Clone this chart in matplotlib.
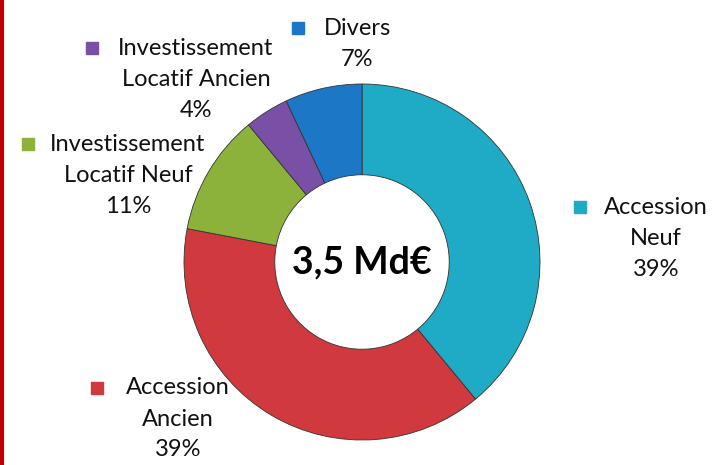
import matplotlib
matplotlib.use("Agg")
import matplotlib.pyplot as plt

categories = ["Accession\nNeuf", "Accession\nAncien", "Investissement\nLocatif Neuf",
              "Investissement\nLocatif Ancien", "Divers"]
values = [39, 39, 11, 4, 7]
pct_labels = ["39%", "39%", "11%", "4%", "7%"]
colors = ["#1FAAC6", "#D0393D", "#8CB23C", "#7A50A6", "#1C78C6"]
center_text = "3,5 Md€"

# label anchor positions (pixels, top-left origin): marker x, text center x, first line y
label_pos = [(580, 656, 207), (97, 178, 388), (28, 128, 144), (92, 196, 48), (298, 357, 28)]

W, H = 728, 465
fig = plt.figure(figsize=(W / 100, H / 100), dpi=100)
ax = fig.add_axes([0, 0, 1, 1])
cx, cy, r = 362, H - 262, 178
ax.pie(values, colors=colors, startangle=90, counterclock=False, center=(cx, cy), radius=r,
       wedgeprops=dict(width=r * 0.51, edgecolor="#333333", linewidth=0.6))
ax.set_xlim(0, W)
ax.set_ylim(0, H)
ax.set_aspect("equal")
ax.axis("off")

font = "Lato"
fs = 17
line_h = 31
for cat, pct, col, (mx, tx, ty) in zip(categories, pct_labels, colors, label_pos):
    lines = cat.split("\n") + [pct]
    ax.plot(mx, H - ty, marker="s", markersize=9, color=col, markeredgecolor=col)
    for i, ln in enumerate(lines):
        ax.text(tx, H - ty - i * line_h, ln, ha="center", va="center", fontsize=fs,
                family=font, color="#111111")

ax.text(cx, cy, center_text, ha="center", va="center", fontsize=27, fontweight="bold",
        family=font, color="#000000")

# red border line at left
ax.plot([1.5, 1.5], [0, H], color="#C00000", linewidth=3, solid_capstyle="butt")

fig.savefig("out.png", dpi=100)
